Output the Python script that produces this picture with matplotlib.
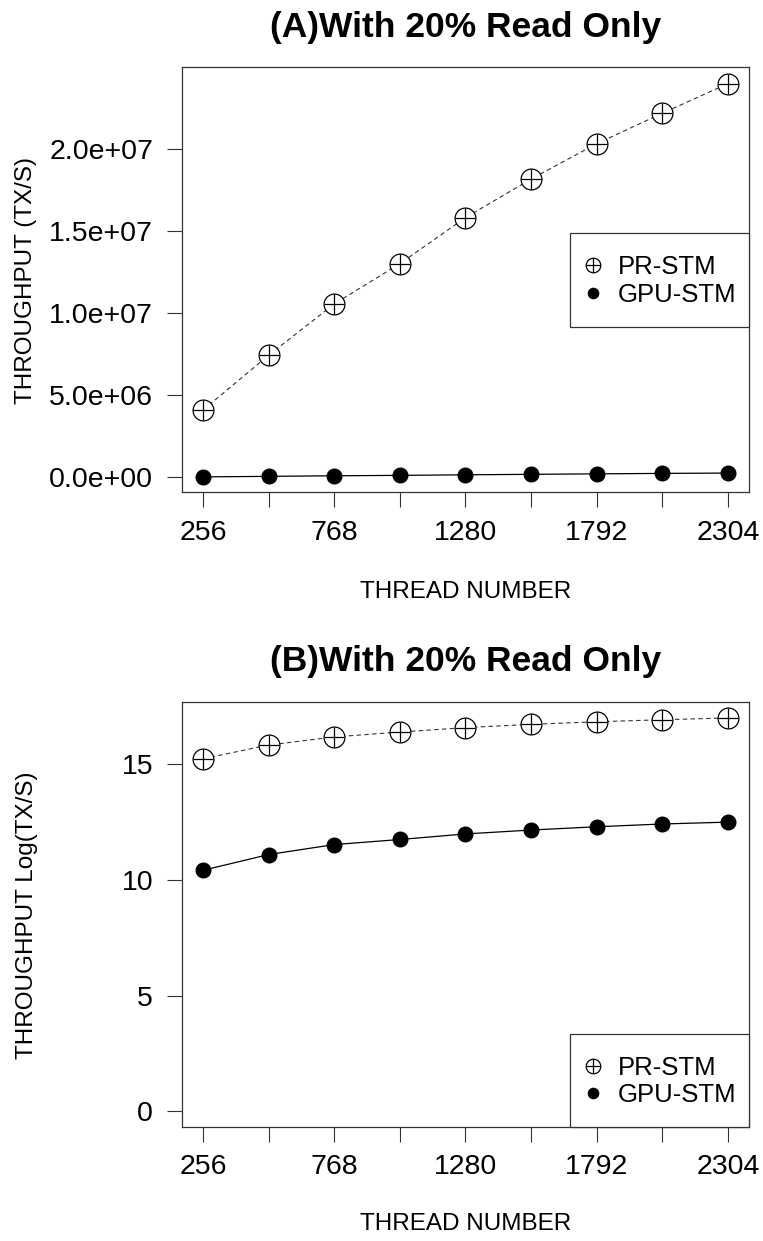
import numpy as np
import matplotlib
matplotlib.use("Agg")
import matplotlib.pyplot as plt
from matplotlib.legend_handler import HandlerTuple
from matplotlib.patches import Rectangle

plt.rcParams['font.family'] = ['Liberation Sans', 'DejaVu Sans']

# data
threads = [256, 512, 768, 1024, 1280, 1536, 1792, 2048, 2304]
xtick_labels = ['256', '', '768', '', '1280', '', '1792', '', '2304']
pr_stm = [4.10e6, 7.43e6, 10.55e6, 13.0e6, 15.8e6, 18.15e6, 20.3e6, 22.15e6, 23.95e6]
gpu_stm = [33200, 65500, 100800, 125500, 159600, 189000, 217600, 245300, 265700]

W, H = 763, 1241
fig = plt.figure(figsize=(W / 100, H / 100), dpi=100)


def px_axes(left, top, right, bottom):
    return fig.add_axes([left / W, 1 - bottom / H, (right - left) / W, (bottom - top) / H])


def draw_panel(ax, box, pr, gpu, ylim, yticks, yfmt, leg_box):
    ax.plot(threads, pr, color='#333333', lw=0.8, dashes=(4, 3), zorder=2)
    ax.plot(threads, gpu, color='black', lw=0.9, zorder=2)
    h1 = ax.plot(threads, pr, ls='none', marker='o', ms=15, mfc='white',
                 mec='black', mew=0.9, zorder=3)[0]
    h2 = ax.plot(threads, pr, ls='none', marker='+', ms=15, mec='black',
                 mew=0.9, zorder=4)[0]
    h3 = ax.plot(threads, gpu, ls='none', marker='o', ms=10.5, color='black', zorder=3)[0]

    ax.set_xlim(256 - 0.04 * 2048, 2304 + 0.04 * 2048)
    ax.set_ylim(*ylim)
    ax.set_xticks(threads)
    ax.set_xticklabels(xtick_labels)
    ax.set_yticks(yticks)
    ax.set_yticklabels([yfmt(v) for v in yticks])
    ax.tick_params(direction='out', length=10.8, width=0.8, color='#333333',
                   labelsize=20.5, pad=10)
    ax.tick_params(axis='x', pad=9)
    for s in ax.spines.values():
        s.set_linewidth(0.9)
        s.set_color('#333333')

    # legend frame in pixel terms of the panel
    l, t, r, b = box
    bl, bt, br, bb = leg_box
    fx = lambda x: (x - l) / (r - l)
    fy = lambda y: (b - y) / (b - t)
    ax.add_patch(Rectangle((fx(bl), fy(bb)), fx(br) - fx(bl), fy(bt) - fy(bb),
                           transform=ax.transAxes, fill=True, facecolor='white',
                           edgecolor='#333333', lw=0.9, zorder=5, clip_on=False))
    leg = ax.legend([(h1, h2), h3], ['PR-STM', 'GPU-STM'],
                    handler_map={tuple: HandlerTuple(ndivide=1)},
                    loc='center left', bbox_to_anchor=(fx(582.7), fy((bt + bb) / 2 + 1)),
                    fontsize=18.5, markerscale=0.7, handlelength=0.8,
                    handletextpad=0.58, labelspacing=0.12, borderpad=0,
                    borderaxespad=0, frameon=False)
    leg.set_zorder(6)
    return leg


# panel A
boxA = (182, 67, 749, 492)
axA = px_axes(*boxA)
draw_panel(axA, boxA, pr_stm, gpu_stm, (-0.886e6, 24.96e6),
           [0, 5e6, 1e7, 1.5e7, 2e7], lambda v: '%.1e' % v,
           (570, 233, 749, 327))

# panel B (natural log)
boxB = (182, 702, 749, 1127)
axB = px_axes(*boxB)
draw_panel(axB, boxB, np.log(pr_stm), np.log(gpu_stm), (-0.68, 17.68),
           [0, 5, 10, 15], lambda v: '%d' % v,
           (570, 1034, 749, 1127))

fig.text(466 / W, 1 - 27 / H, '(A)With 20% Read Only', ha='center', va='center',
         fontsize=25.5, fontweight='bold')
fig.text(466 / W, 1 - 661 / H, '(B)With 20% Read Only', ha='center', va='center',
         fontsize=25.5, fontweight='bold')
fig.text(466 / W, 1 - 592 / H, 'THREAD NUMBER', ha='center', va='center', fontsize=17.5)
fig.text(466 / W, 1 - 1224 / H, 'THREAD NUMBER', ha='center', va='center', fontsize=17.5)
fig.text(26 / W, 1 - 280 / H, 'THROUGHPUT (TX/S)', ha='center', va='center',
         rotation=90, fontsize=17.5)
fig.text(27 / W, 1 - 915 / H, 'THROUGHPUT Log(TX/S)', ha='center', va='center',
         rotation=90, fontsize=17.5)

fig.savefig('out.png', dpi=100, facecolor='white')
